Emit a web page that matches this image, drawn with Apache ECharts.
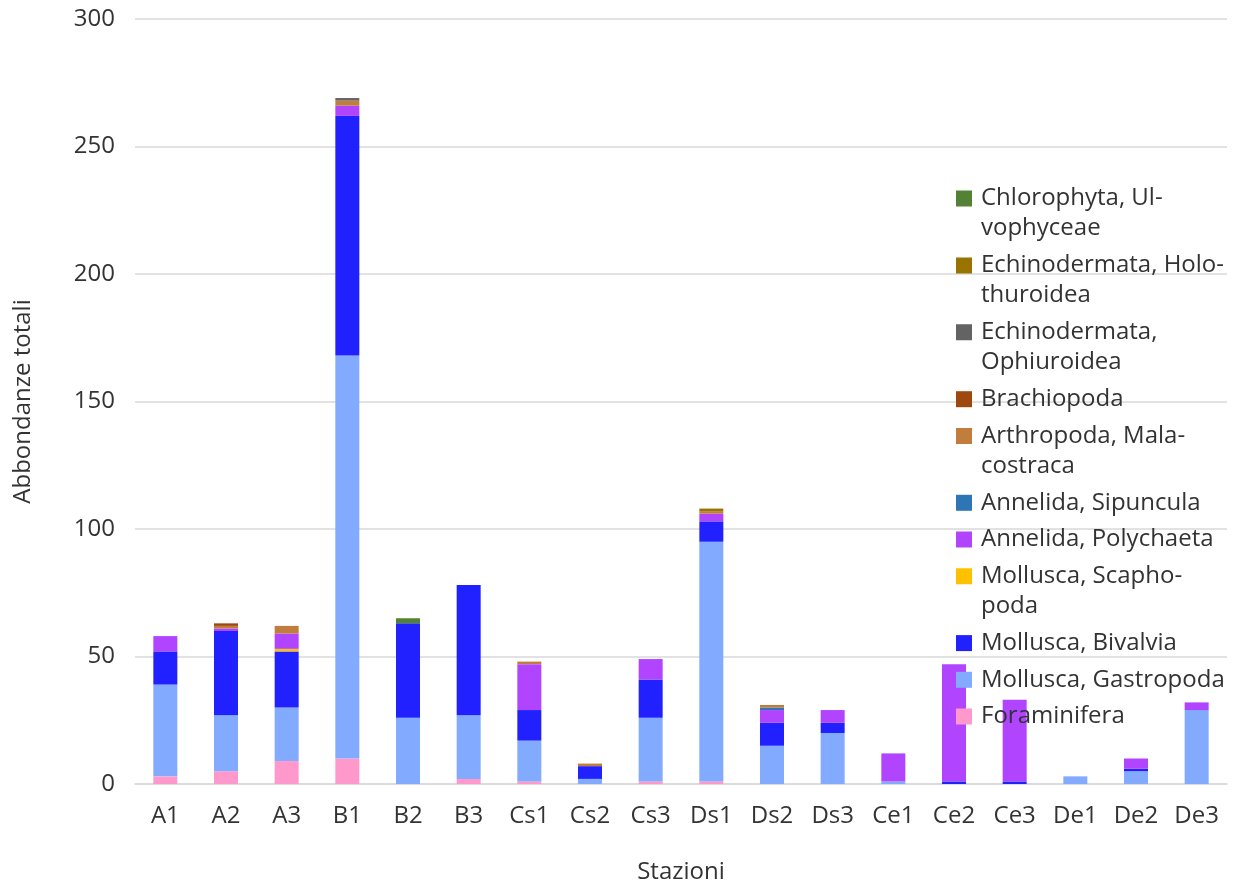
<!DOCTYPE html>
<html>
<head>
<meta charset="utf-8">
<script src="https://cdn.jsdelivr.net/npm/echarts@6/dist/echarts.min.js"></script>
<style>
  html, body { margin: 0; padding: 0; background: #fff; }
  #chart { width: 1244px; height: 889px; }
</style>
</head>
<body>
<div id="chart"></div>
<script>
// stazioni
const stations = ['A1', 'A2', 'A3', 'B1', 'B2', 'B3', 'Cs1', 'Cs2', 'Cs3', 'Ds1', 'Ds2', 'Ds3', 'Ce1', 'Ce2', 'Ce3', 'De1', 'De2', 'De3'];

// abbondanze per taxon (ordine di impilamento, dal basso)
const foraminifera   = [3, 5, 9, 10, 0, 2, 1, 0, 1, 1, 0, 0, 0, 0, 0, 0, 0, 0];
const gastropoda     = [36, 22, 21, 158, 26, 25, 16, 2, 25, 94, 15, 20, 1, 0, 0, 3, 5, 29];
const bivalvia       = [13, 33, 22, 94, 37, 51, 12, 5, 15, 8, 9, 4, 0, 1, 1, 0, 1, 0];
const scaphopoda     = [0, 0, 1, 0, 0, 0, 0, 0, 0, 0, 0, 0, 0, 0, 0, 0, 0, 0];
const polychaeta     = [6, 1, 6, 4, 0, 0, 18, 0, 8, 3, 5, 5, 11, 46, 32, 0, 4, 3];
const sipuncula      = [0, 0, 0, 0, 0, 0, 0, 0, 0, 0, 1, 0, 0, 0, 0, 0, 0, 0];
const malacostraca   = [0, 1, 3, 2, 0, 0, 1, 1, 0, 1, 1, 0, 0, 0, 0, 0, 0, 0];
const brachiopoda    = [0, 1, 0, 0, 0, 0, 0, 0, 0, 0, 0, 0, 0, 0, 0, 0, 0, 0];
const ophiuroidea    = [0, 0, 0, 1, 0, 0, 0, 0, 0, 0, 0, 0, 0, 0, 0, 0, 0, 0];
const holothuroidea  = [0, 0, 0, 0, 0, 0, 0, 0, 0, 1, 0, 0, 0, 0, 0, 0, 0, 0];
const ulvophyceae    = [0, 0, 0, 0, 2, 0, 0, 0, 0, 0, 0, 0, 0, 0, 0, 0, 0, 0];

const taxa = [
  { name: 'Foraminifera', label: 'Foraminifera', color: '#FF99CC', data: foraminifera },
  { name: 'Mollusca, Gastropoda', label: 'Mollusca, Gastropoda', color: '#82AAFF', data: gastropoda },
  { name: 'Mollusca, Bivalvia', label: 'Mollusca, Bivalvia', color: '#2121FF', data: bivalvia },
  { name: 'Mollusca, Scaphopoda', label: 'Mollusca, Scapho-\npoda', color: '#FFC000', data: scaphopoda },
  { name: 'Annelida, Polychaeta', label: 'Annelida, Polychaeta', color: '#B044FF', data: polychaeta },
  { name: 'Annelida, Sipuncula', label: 'Annelida, Sipuncula', color: '#2E75B6', data: sipuncula },
  { name: 'Arthropoda, Malacostraca', label: 'Arthropoda, Mala-\ncostraca', color: '#C07D3E', data: malacostraca },
  { name: 'Brachiopoda', label: 'Brachiopoda', color: '#9E480E', data: brachiopoda },
  { name: 'Echinodermata, Ophiuroidea', label: 'Echinodermata,\nOphiuroidea', color: '#636363', data: ophiuroidea },
  { name: 'Echinodermata, Holothuroidea', label: 'Echinodermata, Holo-\nthuroidea', color: '#997300', data: holothuroidea },
  { name: 'Chlorophyta, Ulvophyceae', label: 'Chlorophyta, Ul-\nvophyceae', color: '#548235', data: ulvophyceae }
];

const FONT = 'Open Sans';
const TEXT = '#333';
const LINE = 30;

const chart = echarts.init(document.getElementById('chart'));

// una legenda per voce: per le voci su due righe l'icona è alta quanto il testo
// e il quadratino sta in cima, così resta allineato alla prima riga
const legends = [];
let iconY = 198.5;
for (let i = taxa.length - 1; i >= 0; i--) {
  const lines = taxa[i].label.split('\n').length;
  const h = 16 + (lines - 1) * LINE;
  legends.push({
    left: 956,
    top: iconY - 15,
    padding: 0,
    itemWidth: 16,
    itemHeight: h,
    selectedMode: false,
    data: [{
      name: taxa[i].name,
      icon: lines > 1 ? 'path://M0,0H16V16H0Z M0,' + (h - 0.01) + 'H0.01V' + h + 'H0Z' : 'rect'
    }],
    formatter: () => taxa[i].label,
    textStyle: { fontFamily: FONT, fontSize: 24, lineHeight: LINE, color: TEXT, padding: [0, 0, 0, 4] }
  });
  iconY += lines * 30.2 + 6.5;
}

chart.setOption({
  animation: false,
  grid: { left: 135, right: 17, top: 19, bottom: 104 },
  legend: legends,
  xAxis: {
    type: 'category',
    data: stations,
    name: 'Stazioni',
    nameLocation: 'middle',
    nameGap: 76,
    nameTextStyle: { fontFamily: FONT, fontSize: 24, color: TEXT },
    axisLine: { lineStyle: { color: '#D9D9D9', width: 1.5 } },
    axisTick: { length: 12, lineStyle: { color: '#D9D9D9', width: 1.5 } },
    axisLabel: { margin: 20, fontFamily: FONT, fontSize: 24, color: TEXT }
  },
  yAxis: {
    type: 'value',
    min: 0,
    max: 300,
    interval: 50,
    name: 'Abbondanze totali',
    nameLocation: 'middle',
    nameGap: 100,
    nameTextStyle: { fontFamily: FONT, fontSize: 24, color: TEXT },
    axisLabel: { margin: 20, fontFamily: FONT, fontSize: 24, color: TEXT },
    splitLine: { lineStyle: { color: '#D9D9D9', width: 1.5 } }
  },
  series: taxa.map(t => ({
    name: t.name,
    type: 'bar',
    stack: 'tot',
    barWidth: 24,
    itemStyle: { color: t.color },
    data: t.data
  }))
});
</script>
</body>
</html>
